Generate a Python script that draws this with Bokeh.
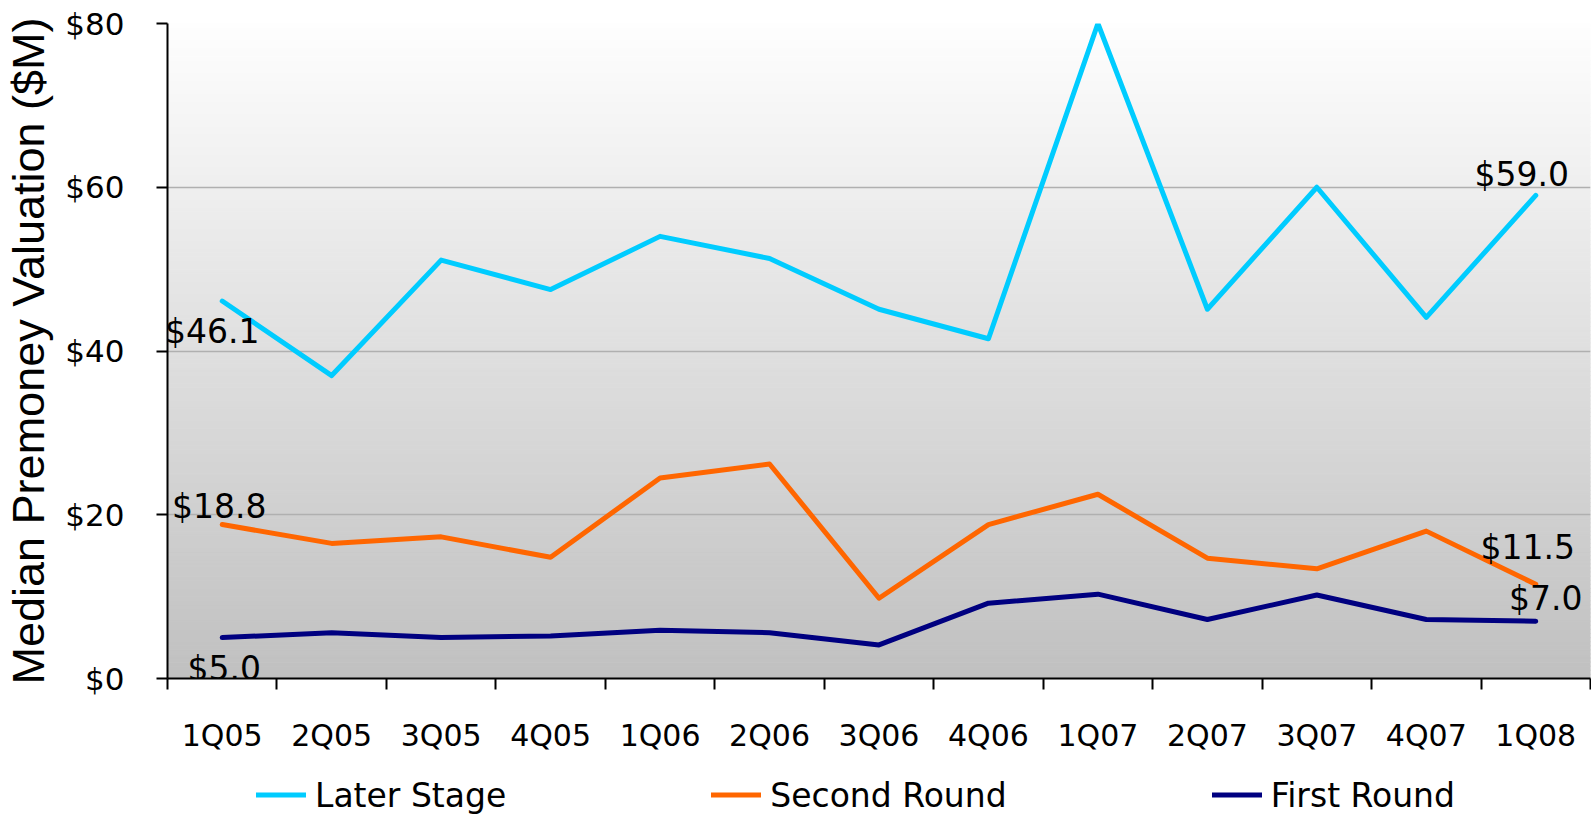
import numpy as np
from bokeh.plotting import figure
from bokeh.layouts import column
from bokeh.models import (Range1d, FixedTicker, Legend, LegendItem, ColumnDataSource,
                          LabelSet, NumeralTickFormatter)
from bokeh.core.properties import value
from bokeh.embed import file_html
from bokeh.resources import INLINE

# ---------------- data ----------------
quarters = ["1Q05", "2Q05", "3Q05", "4Q05", "1Q06", "2Q06", "3Q06",
            "4Q06", "1Q07", "2Q07", "3Q07", "4Q07", "1Q08"]
later_stage = [46.1, 37.0, 51.1, 47.5, 54.0, 51.3, 45.1, 41.5, 80.0, 45.1, 60.0, 44.1, 59.0]
second_round = [18.8, 16.5, 17.3, 14.8, 24.5, 26.2, 9.8, 18.8, 22.5, 14.7, 13.4, 18.0, 11.5]
first_round = [5.0, 5.6, 5.0, 5.2, 5.9, 5.6, 4.1, 9.2, 10.3, 7.2, 10.2, 7.2, 7.0]
y_ticks = [0, 20, 40, 60, 80]
series_names = ["Later Stage", "Second Round", "First Round"]

# category positions on the axis (each quarter centred in its slot)
n_cat = len(quarters)
cat_x = [i + 0.5 for i in range(n_cat)]
cat_bounds = list(range(n_cat + 1))

# ---------------- styles ----------------
colors = ["#00CCFF", "#FF6600", "#000080"]
# screen offsets (dx, dy up-positive) for first / last point labels of each series
label_offsets = {
    "Later Stage": [(-10, -30), (-14, 21)],
    "Second Round": [(-3, 18), (-8, 37)],
    "First Round": [(2, -31), (10, 23)],
}
FONT = "DejaVu Sans"
LINE_W = 5

p = figure(width=1591, height=772, output_backend="svg", toolbar_location=None,
           x_range=Range1d(0, n_cat), y_range=Range1d(0, 80),
           min_border_left=163, min_border_right=1, min_border_top=23, min_border_bottom=94)
p.outline_line_color = None
p.background_fill_color = "white"
p.border_fill_color = "white"
p.xgrid.visible = False

# gradient background (decoration)
n_bands = 160
edges = np.linspace(0, 80, n_bands + 1)
shades = []
for k in range(n_bands):
    t = (k + 0.5) / n_bands
    g = int(round(0xC0 + t * (0xFE - 0xC0)))
    shades.append("#%02x%02x%02x" % (g, g, g))
p.quad(left=0, right=n_cat, bottom=edges[:-1], top=edges[1:],
       fill_color=shades, line_color=shades, line_width=1, level="underlay")

# y axis
p.yaxis.ticker = FixedTicker(ticks=y_ticks)
p.yaxis.formatter = NumeralTickFormatter(format="$0")
p.yaxis.axis_line_color = "black"
p.yaxis.axis_line_width = 2
p.yaxis.major_tick_line_color = "black"
p.yaxis.major_tick_line_width = 2
p.yaxis.major_tick_out = 11
p.yaxis.major_tick_in = 0
p.yaxis.minor_tick_line_color = None
p.yaxis.major_label_text_font = FONT
p.yaxis.major_label_text_font_size = "31px"
p.yaxis.major_label_text_color = "black"
p.yaxis.major_label_standoff = 32
p.yaxis.axis_label = "Median Premoney Valuation ($M)"
p.yaxis.axis_label_text_font = "Liberation Sans"
p.yaxis.axis_label_text_font_size = "45px"
p.yaxis.axis_label_text_font_style = "normal"
p.yaxis.axis_label_text_color = "black"
p.yaxis.axis_label_standoff = 8
p.ygrid.grid_line_color = "#b0b0b0"
p.ygrid.grid_line_width = 1.5

# x axis: labels at category centres, ticks at category boundaries
xa = p.xaxis[0]
xa.ticker = FixedTicker(ticks=cat_x, minor_ticks=cat_bounds)
xa.major_label_overrides = {x: q for x, q in zip(cat_x, quarters)}
xa.axis_line_color = "black"
xa.axis_line_width = 2
xa.major_tick_line_color = None
xa.major_tick_out = 0
xa.major_tick_in = 0
xa.minor_tick_line_color = "black"
xa.minor_tick_line_width = 2
xa.minor_tick_out = 11
xa.minor_tick_in = 0
xa.major_label_text_font = FONT
xa.major_label_text_font_size = "30px"
xa.major_label_text_color = "black"
xa.major_label_standoff = 28

# lines
series_values = [later_stage, second_round, first_round]
for name, vals, col in zip(series_names, series_values, colors):
    src = ColumnDataSource(dict(x=cat_x, y=vals, q=quarters))
    p.line("x", "y", source=src, line_color=col, line_width=LINE_W,
           line_cap="round", line_join="round")

    idx = [0, len(vals) - 1]
    offs = label_offsets[name]
    lsrc = ColumnDataSource(dict(
        x=[cat_x[i] for i in idx],
        y=[vals[i] for i in idx],
        text=["$%.1f" % vals[i] for i in idx],
        dx=[o[0] for o in offs],
        dy=[o[1] for o in offs],
    ))
    p.add_layout(LabelSet(x="x", y="y", text="text", source=lsrc,
                          x_offset="dx", y_offset="dy",
                          text_font=value(FONT), text_font_size=value("33px"),
                          text_color="black", text_align="center", text_baseline="middle"))

# legend strip below the chart (its series lines sit outside its visible range)
lf = figure(width=1591, height=45, output_backend="svg", toolbar_location=None,
            x_range=Range1d(0, n_cat), y_range=Range1d(100, 101),
            min_border=0, min_border_left=163, min_border_right=1,
            x_axis_location=None, y_axis_location=None)
lf.outline_line_color = None
lf.grid.visible = False
lf.background_fill_color = "white"
lf.border_fill_color = "white"
legend_renderers = [lf.line(x=cat_x, y=vals, line_color=col, line_width=LINE_W, line_cap="round")
                    for vals, col in zip(series_values, colors)]
legend = Legend(items=[LegendItem(label=n, renderers=[r]) for n, r in zip(series_names, legend_renderers)],
                orientation="horizontal", location="left",
                glyph_width=50, glyph_height=20, label_standoff=9, spacing=205,
                padding=0, margin=89, border_line_color=None, background_fill_alpha=0,
                label_text_font=FONT, label_text_font_size="33px", label_text_color="black")
lf.add_layout(legend, "center")

layout = column(p, lf, spacing=0)
open("out.html", "w").write(file_html(layout, INLINE))
